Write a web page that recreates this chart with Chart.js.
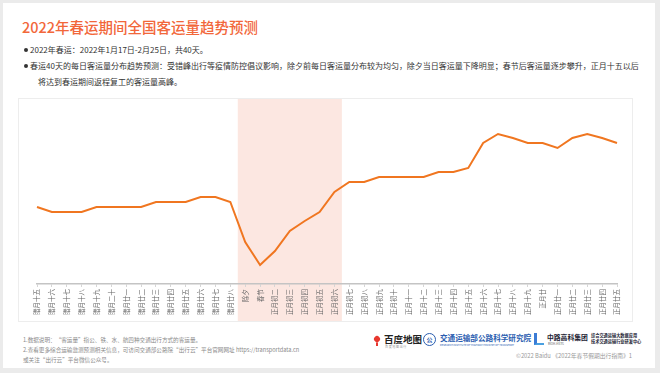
<!DOCTYPE html>
<html><head><meta charset="utf-8">
<script src="https://cdn.jsdelivr.net/npm/chart.js@4/dist/chart.umd.min.js"></script>
<style>
html,body{margin:0;padding:0;}
body{width:660px;height:373px;position:relative;overflow:hidden;background:#fff;font-family:"Noto Sans CJK SC","Noto Sans",sans-serif;color:#333;}
.frame{position:absolute;left:0;top:0;width:660px;height:373px;box-sizing:border-box;border:3px solid #ebebeb;border-right-width:5px;border-bottom-width:5px;pointer-events:none;z-index:5}
.title{position:absolute;left:22px;top:17px;font-size:14.5px;font-weight:500;color:#f2673a;white-space:nowrap;line-height:20px}
.b{position:absolute;font-size:8px;line-height:12px;white-space:nowrap;color:#333}
.dot{position:absolute;width:4px;height:4px;border-radius:50%;background:#333}
.card{position:absolute;left:18px;top:98px;width:615px;height:224px;box-sizing:border-box;border:1px solid #ededed;pointer-events:none;z-index:3}
#wrap{position:absolute;left:18px;top:98px;width:615px;height:224px}
.note{position:absolute;left:23px;font-size:5.6px;line-height:8px;color:#8a8a8a;white-space:nowrap}
.logo{position:absolute;white-space:nowrap}
</style></head><body>
<div class="frame"></div>
<div class="title">2022年春运期间全国客运量趋势预测</div>
<div class="dot" style="left:24px;top:48px"></div>
<div class="b" style="left:30px;top:44px">2022年春运：2022年1月17日-2月25日，共40天。</div>
<div class="dot" style="left:24px;top:64px"></div>
<div class="b" style="left:30px;top:60px">春运40天的每日客运量分布趋势预测：受错峰出行等疫情防控倡议影响，除夕前每日客运量分布较为均匀，除夕当日客运量下降明显；春节后客运量逐步攀升，正月十五以后</div>
<div class="b" style="left:38px;top:76px">将达到春运期间返程复工的客运量高峰。</div>
<div id="wrap"><canvas id="c" width="615" height="224"></canvas></div>
<div class="card"></div>
<div class="note" style="top:336px">1.数据说明：“客运量”指公、铁、水、航四种交通出行方式的客运量。</div>
<div class="note" style="top:346px">2.查看更多综合运输监测预测相关信息，可访问交通部公路院“出行云”平台官网网址 https://transportdata.cn</div>
<div class="note" style="top:356px">或关注“出行云”平台微信公众号。</div>
<div class="logo" style="left:374px;top:336px;width:6px;height:6px;border-radius:50% 50% 50% 0;transform:rotate(-45deg);background:#e8382f"></div>
<div class="logo" style="left:376px;top:343px;width:2px;height:3px;background:#e8382f"></div>
<div class="logo" style="left:384px;top:333px;font-size:9.5px;font-weight:700;color:#222;line-height:12px">百度地图</div>
<div class="logo" style="left:385px;top:345px;font-size:3px;color:#999;line-height:4px">百 度 地 图 出 行</div>
<div class="logo" style="left:423px;top:333px;width:11px;height:11px;border:1.3px solid #2a5db0;border-radius:50%;font-size:6px;color:#2a5db0;text-align:center;line-height:11px;font-weight:700">公</div>
<div class="logo" style="left:440px;top:333px;font-size:7.6px;font-weight:700;color:#2a5db0;line-height:10px">交通运输部公路科学研究院</div>
<div class="logo" style="left:440px;top:343px;font-size:2.6px;color:#2a5db0;line-height:4px">RESEARCH INSTITUTE OF HIGHWAY MINISTRY OF TRANSPORT</div>
<div class="logo" style="left:534px;top:333px;width:10px;height:12px;border-left:3px solid #3a7bd5;border-bottom:2px solid #4aa0e0;box-sizing:border-box"></div>
<div class="logo" style="left:547px;top:333px;font-size:6.8px;font-weight:700;color:#223;line-height:9px">中路高科集团</div>
<div class="logo" style="left:548px;top:342px;font-size:3px;color:#555;line-height:4px">RIOH-HSTG</div>
<div class="logo" style="left:591px;top:333px;font-size:4.2px;font-weight:700;color:#223;line-height:5.5px">综合交通运输大数据应用<br>技术交通运输行业研发中心</div>
<div class="logo" style="right:28px;top:352px;font-size:5.8px;color:#9a9a9a;line-height:8px">©2022 Baidu 《2022年春节假期出行指南》1</div>
<script>
const categories = ['腊月十五','腊月十六','腊月十七','腊月十八','腊月十九','腊月二十','腊月廿一','腊月廿二','腊月廿三','腊月廿四','腊月廿五','腊月廿六','腊月廿七','腊月廿八','除夕','春节','正月初二','正月初三','正月初四','正月初五','正月初六','正月初七','正月初八','正月初九','正月初十','正月十一','正月十二','正月十三','正月十四','正月十五','正月十六','正月十七','正月十八','正月十九','正月廿','正月廿一','正月廿二','正月廿三','正月廿四','正月廿五'];
const passengerVolume = [77,72,72,72,77,77,77,77,82,82,82,87,87,82,42,19,33,53,63,72,92,102,102,107,107,107,107,112,112,116,141,150,146,141,141,136,146,150,146,141];
const holidayStart = '除夕';
const holidayEnd = '正月初六';

const shadePlugin = {
  id: 'shade',
  beforeDraw(chart) {
    const x = chart.scales.x;
    const i0 = categories.indexOf(holidayStart) - 0.5;
    const i1 = categories.indexOf(holidayEnd) + 0.5;
    const p0 = x.getPixelForValue(i0), p1 = x.getPixelForValue(i1);
    const ctx = chart.ctx;
    ctx.save();
    ctx.fillStyle = '#fce7e1';
    ctx.fillRect(p0, 0, p1 - p0, chart.height);
    ctx.restore();
  }
};

new Chart(document.getElementById('c'), {
  type: 'line',
  data: { labels: categories, datasets: [{ data: passengerVolume, borderColor: '#f07620', borderWidth: 2, pointRadius: 0, tension: 0, fill: false }] },
  options: {
    responsive: false, animation: false,
    layout: { padding: { left: 19, right: 16, top: 6, bottom: 0 } },
    plugins: { legend: { display: false }, tooltip: { enabled: false } },
    scales: {
      x: {
        afterFit(s) { s.height = 38; },
        grid: { display: true, drawOnChartArea: false, tickLength: 3, color: '#d6d6d6' },
        border: { color: '#c4c4c4', width: 1.5 },
        ticks: { autoSkip: false, maxRotation: 90, minRotation: 90, padding: 2, color: '#666', font: { size: 6.5, family: '"Noto Sans CJK SC"' } }
      },
      y: { display: false, min: 0, max: 180 }
    }
  },
  plugins: [shadePlugin]
});
</script>
</body></html>
